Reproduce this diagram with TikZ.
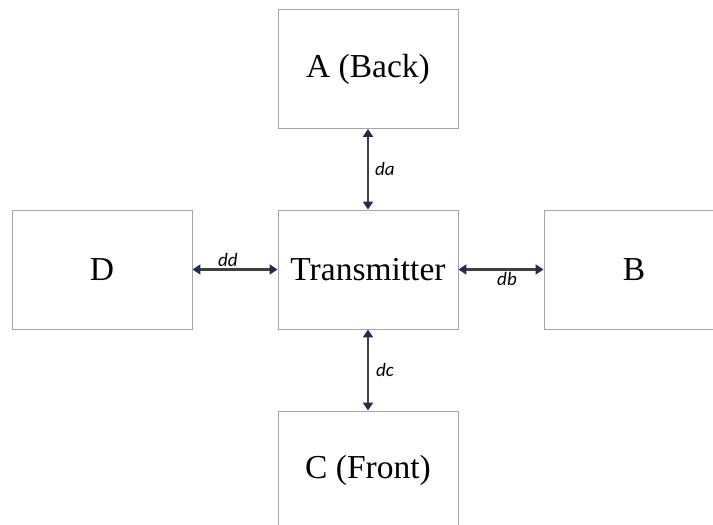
\documentclass[tikz,border=0pt]{standalone}
\usepackage{fontspec}
\setmainfont{Liberation Serif}
\newfontfamily\labelfont{Carlito}
\usetikzlibrary{arrows.meta}
\definecolor{boxgray} {HTML}{A6A6A6}
\definecolor{linkgray}{HTML}{404040}
\definecolor{tipnavy} {HTML}{1F2D4E}
\tikzset{
  unit/.style={draw=boxgray,line width=0.9pt,fill=white,minimum width=180pt,
    minimum height=119pt,inner sep=0pt,font=\fontsize{33.5}{38}\selectfont},
  dist/.style={draw=linkgray,line width=2.4pt,
    {Triangle[length=8pt,width=10pt,color=tipnavy]}-{Triangle[length=8pt,width=10pt,color=tipnavy]}},
  dlab/.style={font=\labelfont\itshape\fontsize{19}{22}\selectfont,inner sep=2pt}
}
\begin{document}
\begin{tikzpicture}[x=1pt,y=-1pt]
        \useasboundingbox (0,0) rectangle (713,525);
        % boxes
        \node[unit] (A)  at (368,69)    {A (Back)};
        \node[unit] (tx) at (368,269.5) {Transmitter};
        \node[unit] (D)  at (102,269.5) {D};
        \node[unit] (B)  at (634,269.5) {B};
        \node[unit] (C)  at (368,470.5) {C (Front)};

        % distances to the transmitter
        \draw[dist] (A.south) -- (tx.north) node[dlab,midway,right,xshift=4pt] {da};
        \draw[dist] (D.east) -- (tx.west) node[dlab,midway,above,xshift=-7pt] {dd};
        \draw[dist] (tx.east) -- (B.west) node[dlab,midway,below,xshift=6pt] {db};
        \draw[dist] (tx.south) -- (C.north) node[dlab,midway,right,xshift=5pt] {dc};
      \end{tikzpicture}
\end{document}
